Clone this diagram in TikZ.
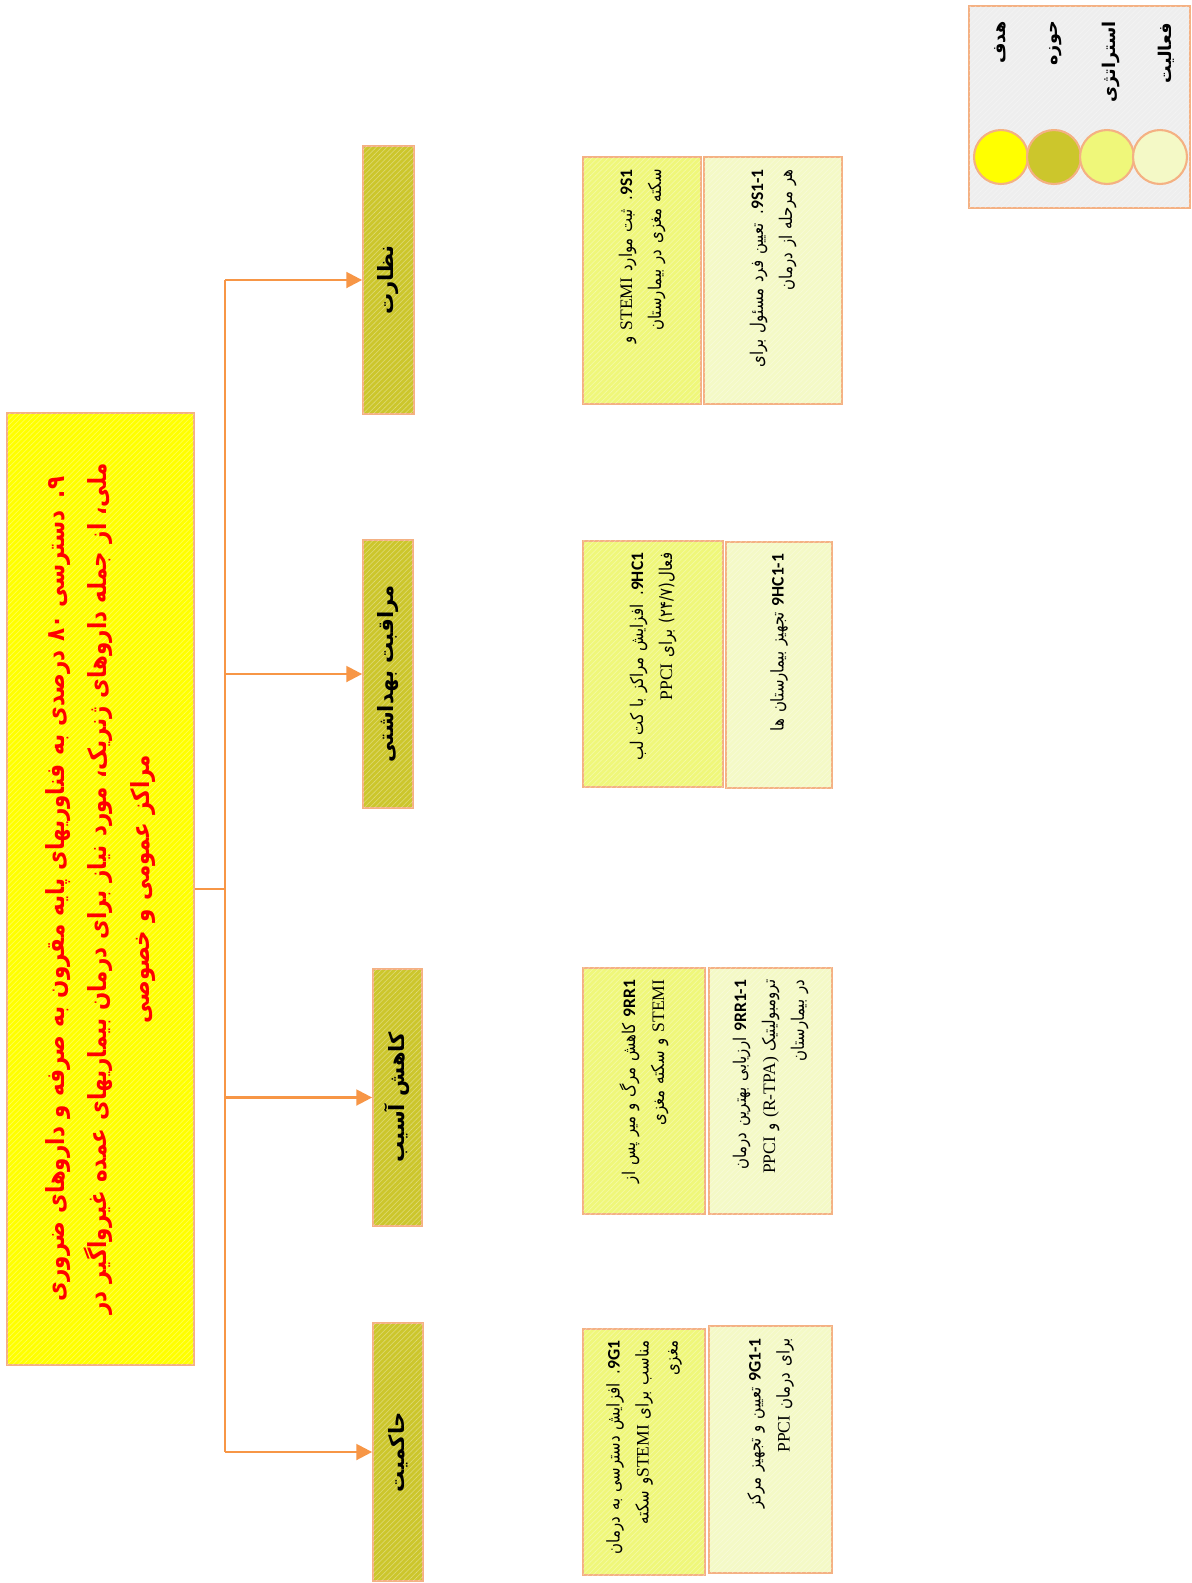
\documentclass[tikz,border=0pt]{standalone}
\usepackage{fontspec}
\usepackage{tikz}
\usetikzlibrary{arrows.meta,positioning,patterns}
\TeXXeTstate=1
\newfontfamily\farsi[Script=Arabic]{DejaVu Sans}
\newfontfamily\farsibody[Script=Arabic, FakeStretch=0.85]{DejaVu Sans}
\newfontfamily\farsititle[Script=Arabic, FakeStretch=0.86]{DejaVu Sans}
\newfontfamily\idfont{Carlito}
\newfontfamily\latnfont{Liberation Serif}
\definecolor{goalyellow}{HTML}{FFFF00}
\definecolor{areaolive}{HTML}{CCC62C}
\definecolor{stratyellow}{HTML}{EFF77A}
\definecolor{actyellow}{HTML}{F4F9C6}
\definecolor{boxborder}{HTML}{F4B183}
\definecolor{linkorange}{HTML}{F79646}
\definecolor{legendgray}{HTML}{EEEEEE}
\newcommand{\rtl}[1]{\mbox{\beginR#1\endR}}
\newcommand{\latword}[1]{\beginL{\latnfont#1}\endL}
\newcommand{\boxid}[1]{\beginL{\idfont\bfseries#1}\endL}
\begin{document}
\begin{tikzpicture}[
    x=0.02cm, y=-0.02cm,
    hatch/.style={postaction={opacity=0.3, pattern=north east lines, pattern color=white}},
    goalbox/.style={draw=boxborder, line width=1.2pt, fill=goalyellow, hatch, rotate=90,
                    minimum width=19.04cm, minimum height=3.74cm, inner xsep=0.07cm, text width=18.9cm,
                    align=center, text=red, font=\farsititle\bfseries\fontsize{14.2}{24}\selectfont},
    areabox/.style={draw=boxborder, line width=1pt, fill=areaolive, hatch, rotate=90,
                    font=\farsi\bfseries\fontsize{12}{16}\selectfont},
    stratbox/.style={draw=boxborder, line width=1.2pt, fill=stratyellow, hatch, rotate=90,
                     align=right, inner xsep=0.24cm, text width=4.45cm,
                     font=\farsibody\fontsize{10}{16.5}\selectfont},
    actbox/.style={stratbox, fill=actyellow},
    link/.style={draw=linkorange, line width=1.4pt},
    arrowlink/.style={link, -{Triangle[length=9pt,width=9pt]}},
    dot/.style={circle, draw=boxborder, line width=1.2pt, minimum size=1.08cm},
    legendtxt/.style={rotate=90, anchor=east, font=\farsi\bfseries\fontsize{10}{12}\selectfont}
]
    \useasboundingbox[fill=white] (0,0) rectangle (1192,1583);

    \node[goalbox] (goal) at (100.5,889) {%
        \rtl{۹. دسترسی ۸۰ درصدی به فناوریهای پایه مقرون به صرفه و داروهای ضروری}\\
        \rtl{ملی، از جمله داروهای ژنریک، مورد نیاز برای درمان بیماریهای عمده غیرواگیر در}\\
        \rtl{مراکز عمومی و خصوصی}};

    \node[areabox, minimum width=5.36cm, minimum height=1.02cm] (nezarat) at (388.5,280) {\rtl{نظارت}};
    \node[areabox, minimum width=5.36cm, minimum height=1.0cm] (moraghebat) at (388,674) {\rtl{مراقبت بهداشتی}};
    \node[areabox, minimum width=5.14cm, minimum height=0.98cm] (kahesh) at (397.5,1097.5) {\rtl{کاهش آسیب}};
    \node[areabox, minimum width=5.16cm, minimum height=1.0cm] (hakemiat) at (398,1452) {\rtl{حاکمیت}};

    \coordinate (hub) at (225,889);
    \draw[link] (goal.south) -- (hub);
    \draw[link] (hub |- nezarat.north) -- (hub |- hakemiat.north);
    \foreach \n in {nezarat,moraghebat,kahesh,hakemiat}
        \draw[arrowlink] (hub |- \n.north) -- (\n.north);

    \node[stratbox, minimum height=2.36cm] (s9S1) at (642,280.5) {%
        \rtl{\boxid{9S1}. ثبت موارد \latword{STEMI} و}\\
        \rtl{سکته مغزی در بیمارستان}};
    \node[actbox, minimum height=2.76cm] (a9S1) at (773,280.5) {%
        \rtl{\boxid{9S1-1}. تعیین فرد مسئول برای}\\
        \rtl{هر مرحله از درمان}};

    \node[stratbox, minimum height=2.8cm] (s9HC1) at (653,664) {%
        \rtl{\boxid{9HC1}. افزایش مراکز با کت لب}\\
        \rtl{فعال(۲۴/۷) برای \latword{PPCI}}};
    \node[actbox, minimum height=2.12cm] (a9HC1) at (779,665) {%
        \rtl{\boxid{9HC1-1} تجهیز بیمارستان ها}};

    \node[stratbox, minimum height=2.44cm] (s9RR1) at (644,1091) {%
        \rtl{\boxid{9RR1} کاهش مرگ و میر پس از}\\
        \rtl{\latword{STEMI} و سکته مغزی}};
    \node[actbox, minimum height=2.46cm] (a9RR1) at (770.5,1091) {%
        \rtl{\boxid{9RR1-1} ارزیابی بهترین درمان}\\
        \rtl{ترومبولیتیک \latword{(R-TPA)} و \latword{PPCI}}\\
        \rtl{در بیمارستان}};

    \node[stratbox, minimum height=2.44cm] (s9G1) at (644,1452) {%
        \rtl{\boxid{9G1}. افزایش دسترسی به درمان}\\
        \rtl{مناسب برای \latword{STEMI}و سکته}\\
        \rtl{مغزی}};
    \node[actbox, minimum height=2.46cm] (a9G1) at (770.5,1449.5) {%
        \rtl{\boxid{9G1-1} تعیین و تجهیز مرکز}\\
        \rtl{برای درمان \latword{PPCI}}};

    \node[draw=boxborder, line width=1.2pt, fill=legendgray, hatch, minimum width=4.42cm,
          minimum height=4.04cm] (legend) at (1079.5,107) {};
    \node[dot, fill=goalyellow] (dgoal) at (1001,157) {};
    \node[dot, fill=areaolive] (darea) at (1054,157) {};
    \node[dot, fill=stratyellow] (dstrat) at (1107,157) {};
    \node[dot, fill=actyellow] (dact) at (1160,157) {};
    \node[legendtxt] (lgoal) at (1000,15) {\rtl{هدف}};
    \node[legendtxt] (larea) at (1056,15) {\rtl{حوزه}};
    \node[legendtxt] (lstrat) at (1111,15) {\rtl{استراتژی}};
    \node[legendtxt] (lact) at (1166,17) {\rtl{فعالیت}};
\end{tikzpicture}
\end{document}
